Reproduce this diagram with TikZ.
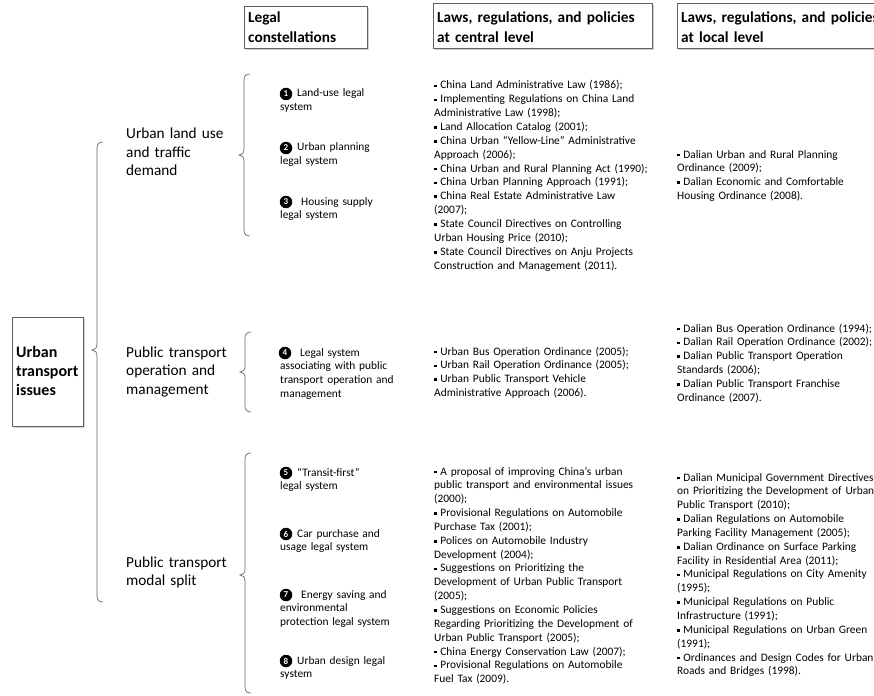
\documentclass[tikz,border=0pt]{standalone}
\usepackage{fontspec}
\setmainfont{Carlito}
\newcommand\bl{\raisebox{1.7pt}{\rule{2.6pt}{2.6pt}}\hspace{3.6pt}}
\newcommand\mybrace[4]{%
 \draw[bracestyle] ({#1+6},#2) .. controls ({#1+2},#2) and (#1,{#2+2}) .. (#1,{#2+6}) -- (#1,{#3-6}) .. controls (#1,{#3-2}) and ({#1-2},#3) .. ({#1-5},#3) .. controls ({#1-2},#3) and (#1,{#3+2}) .. (#1,{#3+6}) -- (#1,{#4-6}) .. controls (#1,{#4-2}) and ({#1+2},#4) .. ({#1+6},#4);}
\tikzset{
 body/.style={anchor=base west, inner sep=0, align=left, text width=260pt, font=\fontsize{11.4}{13.85}\selectfont},
 rowlab/.style={anchor=base west, inner sep=0, align=left, text width=120pt, font=\fontsize{15.3}{18.5}\selectfont},
 headtxt/.style={anchor=base west, inner sep=0, align=left, text width=240pt, font=\bfseries\fontsize{15.3}{19.5}\selectfont},
 boxline/.style={draw=gray!75!black, line width=0.8pt, fill=white},
 boxshadow/.style={fill=gray!35},
 bracestyle/.style={draw=gray!80!black, line width=0.7pt},
 numc/.style={circle, fill=black, inner sep=0, minimum size=12.5pt, text=white, font=\bfseries\fontsize{9}{9}\selectfont},
}
\begin{document}
\begin{tikzpicture}[x=1pt,y=-1pt]
\useasboundingbox (0,0) rectangle (874,695);
% boxes
\fill[boxshadow] (14,319) rectangle (85,428);
\path[boxline] (12,317) rectangle (83,426);
\fill[boxshadow] (246,8) rectangle (369,50);
\path[boxline] (244,6) rectangle (367,48);
\fill[boxshadow] (435,5) rectangle (654,50);
\path[boxline] (433,3) rectangle (652,48);
\fill[boxshadow] (679,5) rectangle (892,50);
\path[boxline] (677,3) rectangle (890,48);
% headers
\node[headtxt] (h1) at (248,23) {Legal\\constellations};
\node[headtxt] (h2) at (437,23) {Laws, regulations, and policies\\at central level};
\node[headtxt] (h3) at (681,23) {Laws, regulations, and policies\\at local level};
% main box text
\node[anchor=base west, inner sep=0, align=left, text width=70pt, font=\bfseries\fontsize{16}{19}\selectfont] (root) at (16,357) {Urban\\transport\\issues};
% braces
\mybrace{97}{142}{350}{602}
\mybrace{244}{74}{155}{236}
\mybrace{245}{332}{372}{412}
\mybrace{245}{453}{575}{693}
% row labels
\node[rowlab] (r1) at (126,139) {Urban land use\\and traffic\\demand};
\node[rowlab] (r2) at (126,357) {Public transport\\operation and\\management};
\node[rowlab] (r3) at (126,567) {Public transport\\modal split};
% items
\node[numc] (c1) at (286,94) {1};
\node[body] (i1) at (280,97) {\hspace*{17pt}Land-use legal\\system};
\node[numc] (c2) at (286,148) {2};
\node[body] (i2) at (280,151) {\hspace*{17pt}Urban planning\\legal system};
\node[numc] (c3) at (286,202) {3};
\node[body] (i3) at (280,205) {\hspace*{21pt}Housing supply\\legal system};
\node[numc] (c4) at (285,353) {4};
\node[body] (i4) at (280,356) {\hspace*{20pt}Legal system\\associating with public\\transport operation and\\management};
\node[numc] (c5) at (286,473) {5};
\node[body] (i5) at (280,476) {\hspace*{17pt}“Transit-first”\\legal system};
\node[numc] (c6) at (286,534) {6};
\node[body] (i6) at (280,537) {\hspace*{17pt}Car purchase and\\usage legal system};
\node[numc] (c7) at (286,595) {7};
\node[body] (i7) at (280,598) {\hspace*{21pt}Energy saving and\\environmental\\protection legal system};
\node[numc] (c8) at (286,661) {8};
\node[body] (i8) at (280,664) {\hspace*{17pt}Urban design legal\\system};
% central column
\node[body] (m1) at (434,89) {\bl China Land Administrative Law (1986);\\
\bl Implementing Regulations on China Land\\
Administrative Law (1998);\\
\bl Land Allocation Catalog (2001);\\
\bl China Urban “Yellow-Line” Administrative\\
Approach (2006);\\
\bl China Urban and Rural Planning Act (1990);\\
\bl China Urban Planning Approach (1991);\\
\bl China Real Estate Administrative Law\\
(2007);\\
\bl State Council Directives on Controlling\\
Urban Housing Price (2010);\\
\bl State Council Directives on Anju Projects\\
Construction and Management (2011).};
\node[body] (m2) at (434,355) {\bl Urban Bus Operation Ordinance (2005);\\
\bl Urban Rail Operation Ordinance (2005);\\
\bl Urban Public Transport Vehicle\\
Administrative Approach (2006).};
\node[body] (m3) at (434,475) {\bl A proposal of improving China’s urban\\
public transport and environmental issues\\
(2000);\\
\bl Provisional Regulations on Automobile\\
Purchase Tax (2001);\\
\bl Polices on Automobile Industry\\
Development (2004);\\
\bl Suggestions on Prioritizing the\\
Development of Urban Public Transport\\
(2005);\\
\bl Suggestions on Economic Policies\\
Regarding Prioritizing the Development of\\
Urban Public Transport (2005);\\
\bl China Energy Conservation Law (2007);\\
\bl Provisional Regulations on Automobile\\
Fuel Tax (2009).};
% local column
\node[body] (l1) at (677,158) {\bl Dalian Urban and Rural Planning\\
Ordinance (2009);\\
\bl Dalian Economic and Comfortable\\
Housing Ordinance (2008).};
\node[body] (l2) at (677,332) {\bl Dalian Bus Operation Ordinance (1994);\\
\bl Dalian Rail Operation Ordinance (2002);\\
\bl Dalian Public Transport Operation\\
Standards (2006);\\
\bl Dalian Public Transport Franchise\\
Ordinance (2007).};
\node[body] (l3) at (677,481) {\bl Dalian Municipal Government Directives\\
on Prioritizing the Development of Urban\\
Public Transport (2010);\\
\bl Dalian Regulations on Automobile\\
Parking Facility Management (2005);\\
\bl Dalian Ordinance on Surface Parking\\
Facility in Residential Area (2011);\\
\bl Municipal Regulations on City Amenity\\
(1995);\\
\bl Municipal Regulations on Public\\
Infrastructure (1991);\\
\bl Municipal Regulations on Urban Green\\
(1991);\\
\bl Ordinances and Design Codes for Urban\\
Roads and Bridges (1998).};
\end{tikzpicture}
\end{document}
